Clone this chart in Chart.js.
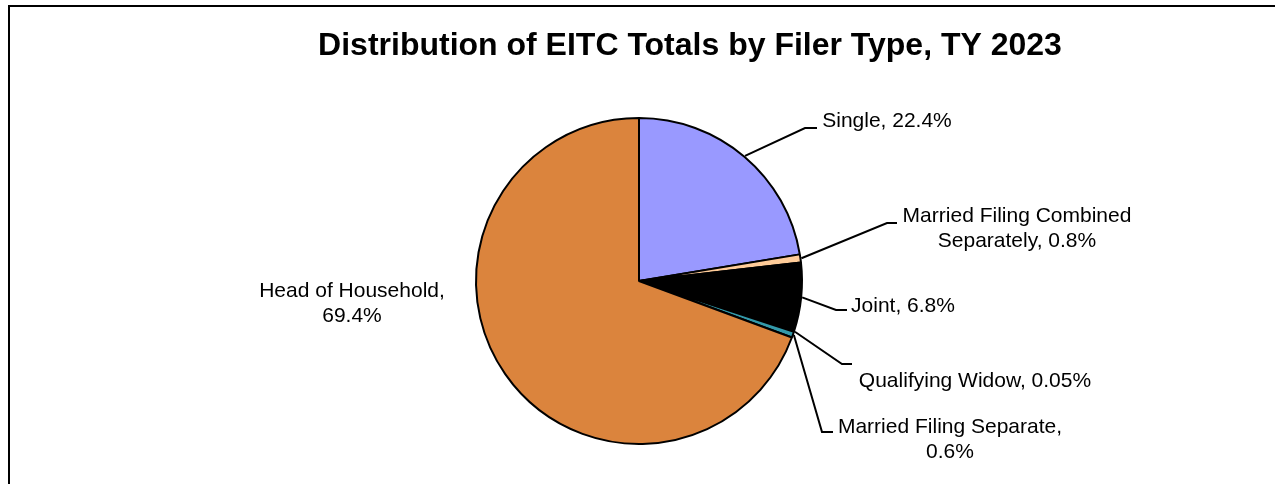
<!DOCTYPE html>
<html>
<head>
<meta charset="utf-8">
<title>EITC by filer type</title>
<script src="https://cdn.jsdelivr.net/npm/chart.js@4.4.1/dist/chart.umd.min.js"></script>
<style>
  html, body { margin: 0; padding: 0; background: #fff; }
  #wrap { position: relative; width: 1275px; height: 484px; }
</style>
</head>
<body>
<div id="wrap"><canvas id="eitcPie"></canvas></div>
<script>
// === data ===
const filerTypes = ['Single', 'Married Filing Combined Separately', 'Joint', 'Qualifying Widow', 'Married Filing Separate', 'Head of Household'];
const sharePct = [22.4, 0.8, 6.8, 0.05, 0.6, 69.4];
const sliceColors = ['#9999FF', '#FFCC99', '#000000', '#33CCCC', '#3399AA', '#DB843D'];
const chartTitle = 'Distribution of EITC Totals by Filer Type, TY 2023';

// label placement: text centre, first line y, wrap width, leader elbow/end (null = no leader)
const labelLayout = [
  { cx: 887,  cy: 121, maxW: 300, elbow: [805, 128], end: [817, 128] },
  { cx: 1017, cy: 216, maxW: 245, elbow: [887, 223], end: [897, 223] },
  { cx: 903,  cy: 306, maxW: 300, elbow: [836, 310], end: [847, 310] },
  { cx: 975,  cy: 381, maxW: 300, elbow: [842, 364], end: [852, 364] },
  { cx: 950,  cy: 427, maxW: 235, elbow: [822, 432], end: [833, 432] },
  { cx: 352,  cy: 291, maxW: 195, elbow: null, end: null }
];

const FONT = '"Liberation Sans", Arial, Helvetica, sans-serif';

function wrapText(ctx, text, maxW) {
  const words = text.split(' ');
  const lines = [];
  let cur = '';
  for (const w of words) {
    const test = cur ? cur + ' ' + w : w;
    if (cur && ctx.measureText(test).width > maxW) { lines.push(cur); cur = w; }
    else cur = test;
  }
  if (cur) lines.push(cur);
  return lines;
}

// frame + title
const framePlugin = {
  id: 'frame',
  beforeDraw(chart) {
    const ctx = chart.ctx;
    ctx.save();
    ctx.strokeStyle = '#000';
    ctx.lineWidth = 2;
    ctx.beginPath();
    ctx.moveTo(9, chart.height);
    ctx.lineTo(9, 6);
    ctx.lineTo(chart.width, 6);
    ctx.stroke();
    ctx.fillStyle = '#000';
    ctx.font = 'bold 32px ' + FONT;
    ctx.textAlign = 'center';
    ctx.textBaseline = 'alphabetic';
    ctx.fillText(chartTitle, 690, 55);
    ctx.restore();
  }
};

// data labels with leader lines
const pieLabels = {
  id: 'pieLabels',
  afterDatasetsDraw(chart) {
    const ctx = chart.ctx;
    const meta = chart.getDatasetMeta(0);
    ctx.save();
    ctx.font = '21px ' + FONT;
    ctx.fillStyle = '#000';
    ctx.strokeStyle = '#000';
    ctx.lineWidth = 2;
    ctx.textAlign = 'center';
    ctx.textBaseline = 'middle';
    meta.data.forEach((arc, i) => {
      const p = arc.getProps(['x', 'y', 'startAngle', 'endAngle', 'outerRadius'], true);
      const lay = labelLayout[i];
      if (lay.elbow) {
        const mid = (p.startAngle + p.endAngle) / 2;
        const r = p.outerRadius + 1;
        ctx.beginPath();
        ctx.moveTo(p.x + Math.cos(mid) * r, p.y + Math.sin(mid) * r);
        ctx.lineTo(lay.elbow[0], lay.elbow[1]);
        ctx.lineTo(lay.end[0], lay.end[1]);
        ctx.stroke();
      }
      const txt = filerTypes[i] + ', ' + sharePct[i] + '%';
      const lines = wrapText(ctx, txt, lay.maxW);
      lines.forEach((ln, k) => ctx.fillText(ln, lay.cx, lay.cy + k * 25));
    });
    ctx.restore();
  }
};

new Chart(document.getElementById('eitcPie'), {
  type: 'pie',
  data: {
    labels: filerTypes,
    datasets: [{
      data: sharePct,
      backgroundColor: sliceColors,
      borderColor: '#000000',
      borderWidth: 2
    }]
  },
  options: {
    responsive: true,
    maintainAspectRatio: false,
    animation: false,
    radius: 163,
    layout: { padding: { top: 100, bottom: 22, left: 3, right: 0 } },
    plugins: {
      legend: { display: false },
      tooltip: { enabled: false },
      title: { display: false }
    }
  },
  plugins: [framePlugin, pieLabels]
});
</script>
</body>
</html>
